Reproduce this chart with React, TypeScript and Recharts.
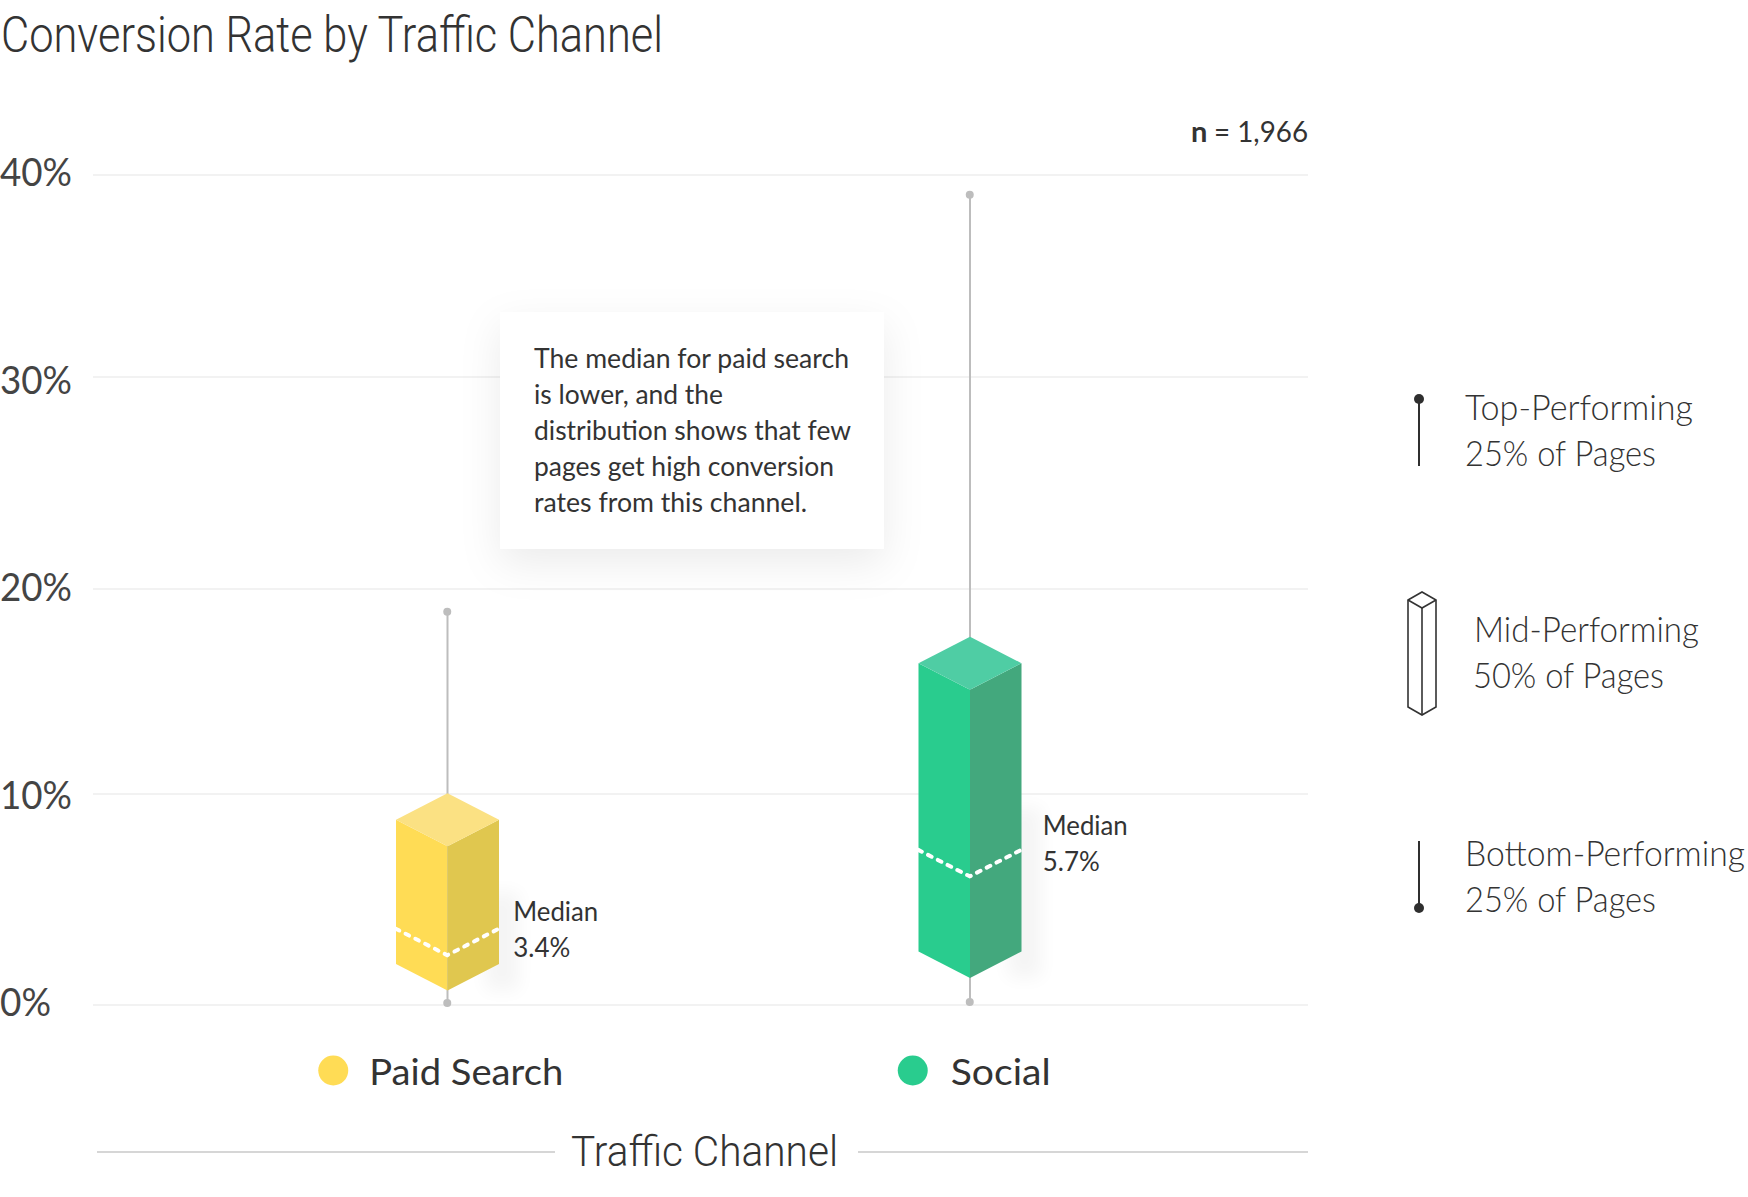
import { ComposedChart, Bar, Line, XAxis, YAxis, CartesianGrid } from 'recharts';

const channels = ['Paid Search', 'Social'];
const lowValues = [0.1, 0.15];
const q1Values = [0.7, 1.3];
const q3Values = [10.2, 17.75];
const highValues = [18.95, 39.05];
const medianLabels = ['3.4%', '5.7%'];
const medianLevels = [2.4, 6.2];
const yTicks = [0, 10, 20, 30, 40];
const gridLevels = [0, 10.17, 20.05, 30.27, 40];

const frontColors = ['#FFDC55', '#29CC8E'];
const sideColors = ['#E0C74F', '#43A87D'];
const topColors = ['#FBE183', '#4FCDA4'];

const noteLines = [
  { text: 'The median for paid search', y: 367.5, w: 315 },
  { text: 'is lower, and the', y: 404, w: 189 },
  { text: 'distribution shows that few', y: 440, w: 317 },
  { text: 'pages get high conversion', y: 476, w: 300 },
  { text: 'rates from this channel.', y: 512, w: 273 },
];

const data = channels.map((name, i) => ({
  name,
  low: lowValues[i],
  box: [q1Values[i], q3Values[i]],
  high: highValues[i],
  median: medianLevels[i],
  index: i,
}));

const INK = '#333333';
const BODY = 'Lato, "Noto Sans", sans-serif';
const HEAD = 'Roboto, sans-serif';
const DEPTH = 26.5;

function T({ x, y, w, size, children, weight = 400, family = BODY, fill = INK }: any) {
  return (
    <text x={x} y={y} fontSize={size} fontFamily={family} fontWeight={weight} fill={fill} textLength={w} lengthAdjust="spacingAndGlyphs">
      {children}
    </text>
  );
}

// whisker sits behind the box, so it is drawn here from the bar's own scale
function IsoBox({ x, y, width, height, payload }: any) {
  const i = payload.index;
  const cx = x + width / 2;
  const r = x + width;
  const b = y + height;
  const perUnit = height / (payload.box[1] - payload.box[0]);
  const whiskerTop = y - (payload.high - payload.box[1]) * perUnit;
  const whiskerBottom = b + (payload.box[0] - payload.low) * perUnit;
  return (
    <g>
      <line x1={cx} y1={whiskerTop} x2={cx} y2={whiskerBottom} stroke="#BDBDBD" strokeWidth={2} />
      <rect x={r - 14} y={y + height * 0.5} width={34} height={height * 0.5} fill="#000" opacity={0.04} filter="url(#soft)" />
      <polygon points={`${x},${y + DEPTH} ${cx},${y + 2 * DEPTH} ${cx},${b} ${x},${b - DEPTH}`} fill={frontColors[i]} />
      <polygon points={`${cx},${y + 2 * DEPTH} ${r},${y + DEPTH} ${r},${b - DEPTH} ${cx},${b}`} fill={sideColors[i]} />
      <polygon points={`${cx},${y} ${r},${y + DEPTH} ${cx},${y + 2 * DEPTH} ${x},${y + DEPTH}`} fill={topColors[i]} />
    </g>
  );
}

function MedianMark({ cx, cy, index }: any) {
  const half = 51.5;
  const isSocial = index === 1;
  const tx = cx + (isSocial ? 73 : 66);
  const shift = isSocial ? -6 : 1;
  return (
    <g>
      <polyline
        points={`${cx - half},${cy - DEPTH} ${cx},${cy} ${cx + half},${cy - DEPTH}`}
        fill="none"
        stroke="#fff"
        strokeWidth={4}
        strokeLinecap="round"
        strokeDasharray="4 7"
      />
      <T x={tx} y={cy - 35 + shift} w={85} size={27}>Median</T>
      <T x={tx} y={cy + 1 + shift} w={57} size={27}>{medianLabels[index]}</T>
    </g>
  );
}

function YTick({ y, payload }: any) {
  const label = `${payload.value}%`;
  return (
    <T x={0} y={y + 11} w={label.length === 2 ? 51 : 72} size={39} weight={400} fill="#444444">{label}</T>
  );
}

function ChannelTick({ x, y, payload, index }: any) {
  const isPaid = index === 0;
  const base = y + 71.5;
  return (
    <g>
      <circle cx={x + (isPaid ? -114 : -57)} cy={base - 14} r={15} fill={frontColors[index]} />
      <T x={x + (isPaid ? -78 : -19)} y={base} w={isPaid ? 194 : 100} size={36}>{payload.value}</T>
    </g>
  );
}

export default function App() {
  return (
    <div style={{ position: 'absolute', left: 0, top: 0, width: 1748, height: 1197, background: '#fff' }}>
      <ComposedChart width={1748} height={1197} data={data} margin={{ top: 175, right: 440, bottom: 0, left: 0 }}>
        <defs>
          <filter id="soft" x="-100%" y="-30%" width="300%" height="160%">
            <feGaussianBlur stdDeviation="9" />
          </filter>
        </defs>
        <CartesianGrid vertical={false} stroke="#F2F2F2" strokeWidth={2} horizontalValues={gridLevels} />
        <XAxis
          dataKey="name"
          height={192}
          axisLine={false}
          tickLine={false}
          padding={{ left: 93, right: 77 }}
          tick={ChannelTick}
          interval={0}
        />
        <YAxis width={93} domain={[0, 40]} ticks={yTicks} axisLine={false} tickLine={false} tick={YTick} />
        <Bar dataKey="box" barSize={103} shape={IsoBox} isAnimationActive={false} />
        <Line dataKey="high" stroke="none" dot={{ r: 4, fill: '#BDBDBD', stroke: 'none' }} isAnimationActive={false} />
        <Line dataKey="low" stroke="none" dot={{ r: 4, fill: '#BDBDBD', stroke: 'none' }} isAnimationActive={false} />
        <Line dataKey="median" stroke="none" dot={(p: any) => <MedianMark key={p.index} {...p} />} isAnimationActive={false} />
      </ComposedChart>

      <svg width={1748} height={1197} style={{ position: 'absolute', left: 0, top: 0, pointerEvents: 'none' }}>
        <T x={1} y={52} w={662} size={50} weight={300} family={HEAD}>Conversion Rate by Traffic Channel</T>
        <text x={1191} y={142} fontSize={29} fontFamily={BODY} fontWeight={700} fill={INK}>n</text>
        <T x={1214} y={142} w={94} size={29}>= 1,966</T>

        <rect x={500} y={312} width={384} height={237} fill="#fff" style={{ filter: 'drop-shadow(0 14px 20px rgba(0,0,0,0.08))' }} />
        {noteLines.map((l) => (
          <T key={l.text} x={534} y={l.y} w={l.w} size={27}>{l.text}</T>
        ))}

        <line x1={97} y1={1152} x2={555} y2={1152} stroke="#D6D6D6" strokeWidth={2} />
        <line x1={858} y1={1152} x2={1308} y2={1152} stroke="#D6D6D6" strokeWidth={2} />
        <T x={571} y={1166} w={267} size={43} weight={300} family={HEAD}>Traffic Channel</T>

        <circle cx={1419} cy={399} r={5} fill="#2F2F2F" />
        <line x1={1419} y1={399} x2={1419} y2={466} stroke="#2F2F2F" strokeWidth={2} />
        <T x={1465} y={420} w={228} size={36} weight={300}>Top-Performing</T>
        <T x={1465} y={466} w={191} size={36} weight={300}>25% of Pages</T>

        <g fill="none" stroke="#333" strokeWidth={1.6}>
          <polygon points="1408,600 1422,592 1436,600 1436,707 1422,715 1408,707" />
          <polyline points="1408,600 1422,608 1436,600" />
          <line x1={1422} y1={608} x2={1422} y2={715} />
        </g>
        <T x={1474} y={642} w={225} size={36} weight={300}>Mid-Performing</T>
        <T x={1473} y={688} w={191} size={36} weight={300}>50% of Pages</T>

        <line x1={1419} y1={841} x2={1419} y2={908} stroke="#2F2F2F" strokeWidth={2} />
        <circle cx={1419} cy={908} r={5} fill="#2F2F2F" />
        <T x={1465} y={866} w={280} size={36} weight={300}>Bottom-Performing</T>
        <T x={1465} y={912} w={191} size={36} weight={300}>25% of Pages</T>
      </svg>
    </div>
  );
}
